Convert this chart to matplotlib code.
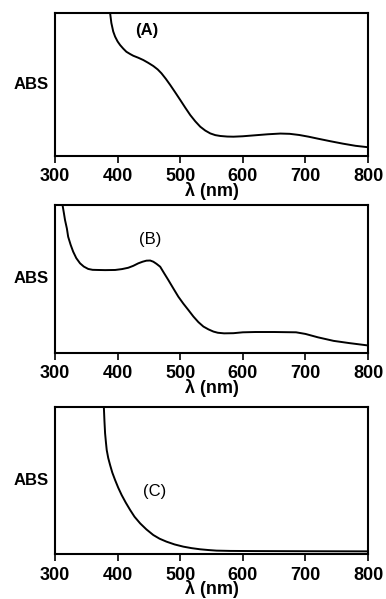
import numpy as np
import matplotlib
matplotlib.use('Agg')
import matplotlib.pyplot as plt

# spectrum (A)
wl_a = [388, 390, 393, 396, 400, 404, 409, 414, 420, 425, 433, 441, 449, 457, 464, 470,
        477, 484, 492, 500, 508, 516, 524, 532, 540, 548, 556, 564, 575, 585, 600, 620,
        640, 660, 675, 690, 705, 720, 740, 760, 780, 798]
abs_a = [1.0, 0.93, 0.87, 0.834, 0.80, 0.775, 0.75, 0.728, 0.712, 0.70, 0.686, 0.67, 0.65, 0.628, 0.604, 0.577,
         0.538, 0.495, 0.443, 0.39, 0.336, 0.284, 0.24, 0.202, 0.175, 0.155, 0.143, 0.137, 0.133, 0.132, 0.135, 0.142,
         0.149, 0.154, 0.152, 0.144, 0.132, 0.118, 0.1, 0.083, 0.068, 0.059]

# spectrum (B)
wl_b = [312, 314, 316, 319, 321, 325, 329, 334, 340, 346, 353, 360, 369, 380, 396, 407, 417, 425,
        433, 440, 446, 452, 457, 462, 468, 474, 481, 489, 497, 505, 513, 521, 529, 537, 545, 553,
        560, 570, 585, 600, 620, 650, 685, 700, 720, 745, 770, 798]
abs_b = [1.0, 0.95, 0.898, 0.84, 0.785, 0.73, 0.684, 0.64, 0.605, 0.583, 0.567, 0.561, 0.56, 0.559, 0.56, 0.566, 0.575, 0.588,
         0.605, 0.616, 0.623, 0.624, 0.616, 0.602, 0.582, 0.54, 0.492, 0.435, 0.379, 0.332, 0.289, 0.245, 0.207, 0.177, 0.158, 0.143,
         0.135, 0.131, 0.132, 0.138, 0.14, 0.14, 0.138, 0.127, 0.104, 0.08, 0.065, 0.05]

# spectrum (C)
wl_c = [378, 379, 380, 381.3, 382.6, 385, 388, 391.5, 396, 401, 406.5, 413, 420, 427, 436, 446, 457, 467,
        478, 491, 505, 518, 532, 545, 558, 580, 620, 700, 798]
abs_c = [1.0, 0.90, 0.819, 0.76, 0.706, 0.652, 0.604, 0.553, 0.502, 0.45, 0.40, 0.349, 0.299, 0.253, 0.208, 0.167, 0.129, 0.104,
         0.084, 0.065, 0.05, 0.04, 0.032, 0.027, 0.023, 0.021, 0.02, 0.019, 0.018]

xticks = [300, 400, 500, 600, 700, 800]
labels = ['(A)', '(B)', '(C)']
label_pos = [(446, 0.876), (452, 0.763), (459, 0.423)]
label_weight = ['bold', 'normal', 'normal']

plt.rcParams['font.family'] = ['Liberation Sans', 'DejaVu Sans']
plt.rcParams['font.weight'] = 'bold'

fig = plt.figure(figsize=(3.86, 5.99), dpi=100)
boxes = [
    [0.1425, 0.7404, 0.811, 0.2379],
    [0.1425, 0.4112, 0.811, 0.2466],
    [0.1425, 0.0751, 0.811, 0.2459],
]
data = [(wl_a, abs_a), (wl_b, abs_b), (wl_c, abs_c)]

for box, (wl, ab), lab, pos, w in zip(boxes, data, labels, label_pos, label_weight):
    ax = fig.add_axes(box)
    ax.plot(wl, ab, color='black', linewidth=1.4, solid_joinstyle='round')
    ax.set_xlim(300, 800)
    ax.set_ylim(0, 1)
    ax.set_xticks(xticks)
    ax.set_yticks([])
    ax.tick_params(axis='x', direction='out', length=5, width=1.2, labelsize=13, pad=4)
    for s in ax.spines.values():
        s.set_linewidth(1.5)
    ax.set_xlabel('λ (nm)', fontsize=13, fontweight='bold', labelpad=-2.5)
    ax.set_ylabel('ABS', fontsize=12, fontweight='bold', rotation=0, ha='center', va='center')
    ax.yaxis.set_label_coords(-0.075, 0.5)
    ax.text(pos[0], pos[1], lab, fontsize=12, fontweight=w, ha='center', va='center')

fig.savefig('out.png', dpi=100)
